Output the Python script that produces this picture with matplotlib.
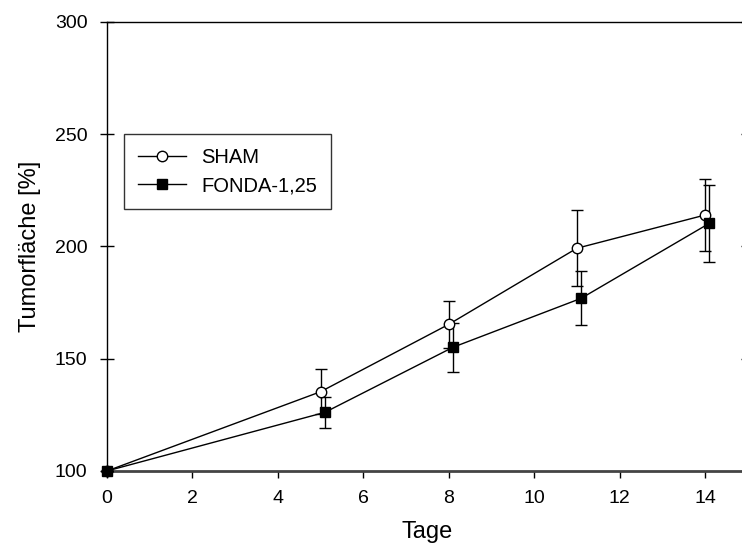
import matplotlib
matplotlib.use("Agg")
from matplotlib import pyplot as plt

plt.rcParams["font.family"] = ["Liberation Sans", "DejaVu Sans"]

# values
sham_days = [0, 5, 8, 11, 14]
sham_area = [100, 135.3, 165.3, 199.2, 214]
sham_err = [0, 10, 10.6, 17, 16]

fonda_days = [0, 5.1, 8.1, 11.1, 14.1]
fonda_area = [100, 126.1, 155.1, 176.9, 210.3]
fonda_err = [0, 7, 11, 12, 17]

xticks = [0, 2, 4, 6, 8, 10, 12, 14]
yticks = [100, 150, 200, 250, 300]

fig = plt.figure(figsize=(7.42, 5.55), dpi=100)
ax = fig.add_axes([0.1442, 0.1514, 0.8635, 0.809])

ax.errorbar(sham_days, sham_area, yerr=sham_err, color="black", lw=1.0,
            marker="o", ms=7.5, mfc="white", mec="black", mew=1.0,
            capsize=4.5, elinewidth=1.0, capthick=1.0, label="SHAM", zorder=3,
            clip_on=False)
ax.errorbar(fonda_days, fonda_area, yerr=fonda_err, color="black", lw=1.0,
            marker="s", ms=6.5, mfc="black", mec="black",
            capsize=4.5, elinewidth=1.0, capthick=1.0, label="FONDA-1,25", zorder=3,
            clip_on=False)

ax.set_xlim(0, 15)
ax.set_ylim(100, 300)
ax.set_xticks(xticks)
ax.set_yticks(yticks)
ax.tick_params(axis="x", direction="out", length=5, width=1, labelsize=14, pad=9)
ax.tick_params(axis="y", direction="inout", length=10, width=1, labelsize=14, pad=9,
               right=True)
ax.spines["bottom"].set_linewidth(2.0)
ax.spines["bottom"].set_color("#444444")
for s in ["left", "top", "right"]:
    ax.spines[s].set_linewidth(1.0)

ax.set_xlabel("Tage", fontsize=17, labelpad=10)
ax.set_ylabel("Tumorfläche [%]", fontsize=17, labelpad=10)

handles, labels = ax.get_legend_handles_labels()
handles = [h[0] for h in handles]
leg = ax.legend(handles, labels, loc="upper left", bbox_to_anchor=(0.0265, 0.7506),
                borderaxespad=0, fontsize=14.5, frameon=True, fancybox=False,
                edgecolor="black", handlelength=2.4, borderpad=0.7,
                labelspacing=0.45, handletextpad=0.75)
leg.get_frame().set_linewidth(1.0)

fig.savefig("out.png", dpi=100)
